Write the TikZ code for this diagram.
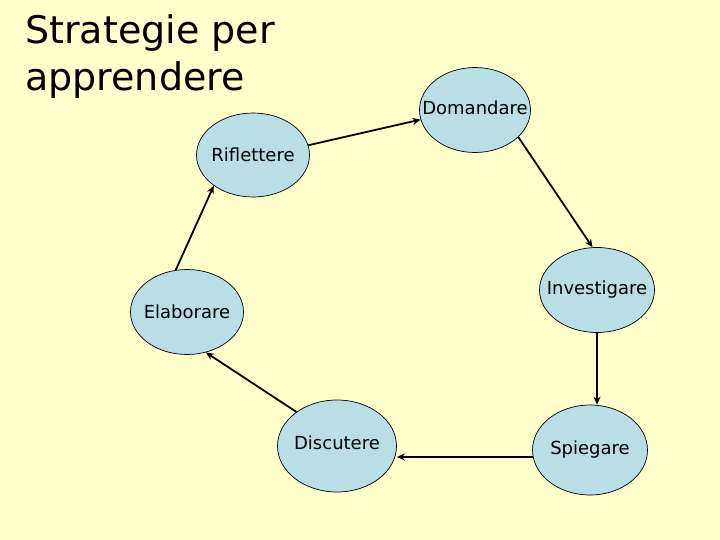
\documentclass[tikz,border=0pt]{standalone}
\usepackage{fontspec}
\setmainfont{DejaVu Sans}
\usetikzlibrary{arrows.meta,shapes.geometric}
\definecolor{cback}{HTML}{FFFFCC}
\definecolor{cstep}{HTML}{BADEE5}
% label kept out of the ellipse size
\newcommand{\stepname}[2][0pt]{\raisebox{#1}{\makebox[0pt]{#2}}}
\tikzset{
  stepnode/.style={ellipse,draw,fill=cstep,line width=0.7pt,inner sep=0pt,
    minimum width=113pt,minimum height=85pt,font=\fontsize{18}{20}\selectfont},
  flow/.style={->,line width=1.8pt},
  >={Stealth[length=8pt,width=7pt]}
}

\begin{document}
\begin{tikzpicture}[x=1pt,y=-1pt]
    \fill[cback] (0,0) rectangle (720,540);
    \node[anchor=base west,align=left,inner sep=0pt,
      font=\fontsize{38}{47}\selectfont] (title) at (25,91) {Strategie per\\apprendere};
    \node[stepnode,minimum width=111pt] (dom) at (475,110) {\stepname[5pt]{Domandare}};
    \node[stepnode,minimum width=115pt] (inv) at (597,290) {\stepname[2pt]{Investigare}};
    \node[stepnode,minimum width=115pt,minimum height=90pt] (spi) at (590,450) {\stepname{Spiegare}};
    \node[stepnode,minimum width=119pt,minimum height=92pt] (dis) at (337,446) {\stepname[7pt]{Discutere}};
    \node[stepnode] (ela) at (187,312) {\stepname{Elaborare}};
    \node[stepnode,minimum height=84pt] (rif) at (253,155) {\stepname{Riflettere}};
    \draw[flow] (rif.10) -- (dom.190);
    \draw[flow] (dom.-32) -- (inv.96);
    \draw[flow] (inv.south) -- (inv.south |- spi.north);
    \draw[flow] (spi.187) -- (spi.187 -| dis.east);
    \draw[flow] (dis.140) -- (ela.-65);
    \draw[flow] (ela.105) -- (rif.218);
\end{tikzpicture}
\end{document}
